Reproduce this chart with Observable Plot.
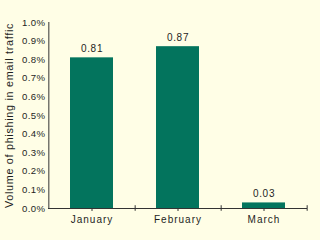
<!DOCTYPE html>
<html><head><meta charset="utf-8">
<script src="https://cdn.jsdelivr.net/npm/d3@7"></script>
<script src="https://cdn.jsdelivr.net/npm/@observablehq/plot@0.6"></script>
<style>
html,body{margin:0;padding:0;background:#fffee6;}
#chart svg{display:block;}
#chart g[aria-label="x-axis tick label"] text{letter-spacing:1px;}
#chart g[aria-label="y-axis tick label"] text{letter-spacing:0.4px;}
#chart g[aria-label="text"] text{letter-spacing:0.7px;}
</style></head><body><div id="chart"></div>
<script>
const months = ["January", "February", "March"];
const volumes = [0.81, 0.87, 0.03];
const yTicks = [0, 0.1, 0.2, 0.3, 0.4, 0.5, 0.6, 0.7, 0.8, 0.9, 1.0];
const yTitle = "Volume of phishing in email traffic";

const data = months.map((m, i) => ({month: m, value: volumes[i]}));
const W = 320, H = 240, ML = 48, MR = 13, MT = 22, MB = 32;
const step = (W - ML - MR) / months.length;
const ink = "#1e1e1e";

const chart = Plot.plot({
  width: W, height: H,
  marginLeft: ML, marginRight: MR, marginTop: MT, marginBottom: MB,
  style: {background: "#fffee6", fontFamily: "'Liberation Sans', Arial, sans-serif", fontSize: "10px", color: ink},
  x: {domain: months, paddingInner: 0.5, paddingOuter: 0.25, label: null},
  y: {domain: [0, 1], ticks: yTicks, label: null},
  marks: [
    Plot.barY(data, {x: "month", y: "value", fill: "#03745d"}),
    Plot.axisY({ticks: yTicks, tickSize: 0, tickPadding: 3, tickFormat: d => d.toFixed(1) + "%", fontSize: 9.6, fill: ink}),
    Plot.axisX({tickSize: 3, tickPadding: 4, stroke: "#333", fontSize: 10, fill: ink, label: null}),
    Plot.text([yTitle], {frameAnchor: "left", rotate: -90, dx: -39, textAnchor: "middle", text: d => d, fontSize: 10.8, fill: ink}),
    Plot.ruleY([0], {stroke: "#333", strokeWidth: 1}),
    Plot.ruleX([months[0]], {dx: -step / 2, stroke: "#333", strokeWidth: 1}),
    Plot.ruleX(months, {dx: step / 2, y1: -0.015, y2: 0.015, stroke: "#333"}),
    Plot.text(data, {x: "month", y: "value", text: d => d.value.toFixed(2), dy: -9, fontSize: 10, fill: ink})
  ]
});
document.getElementById("chart").appendChild(chart);
</script></body></html>
